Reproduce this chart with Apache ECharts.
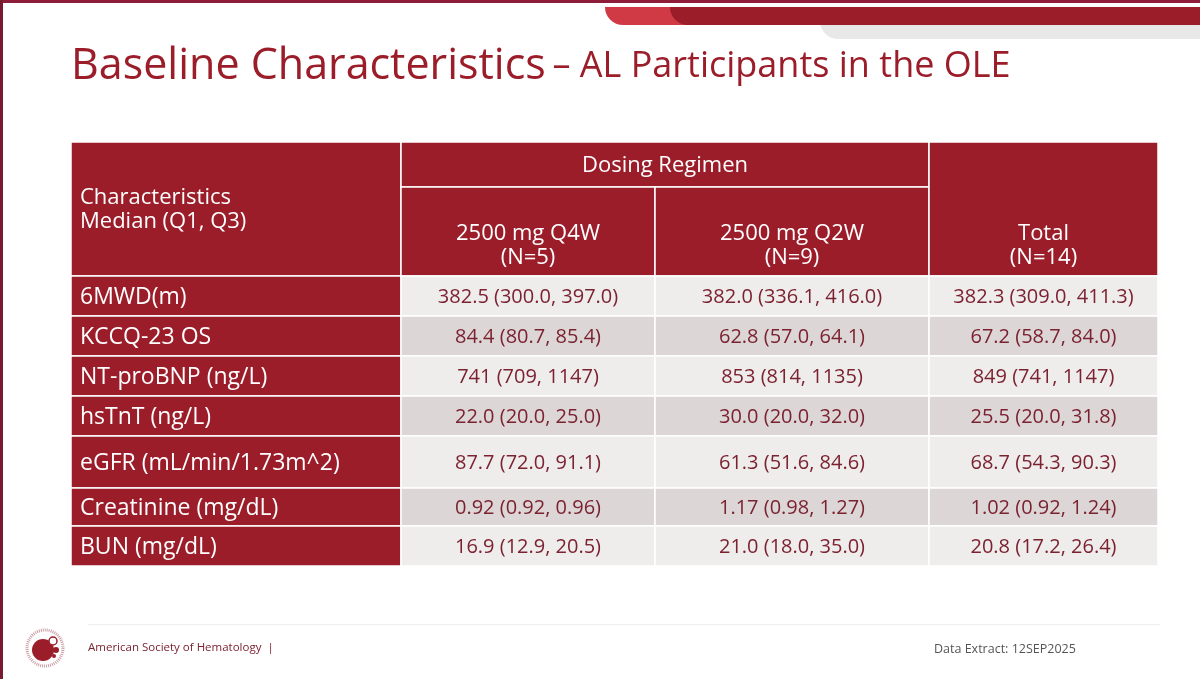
<!DOCTYPE html>
<html><head><meta charset="utf-8">
<script src="https://cdn.jsdelivr.net/npm/echarts@6/dist/echarts.min.js"></script>
<style>html,body{margin:0;padding:0;background:#fff}#c{width:1200px;height:679px}</style>
</head><body><div id="c"></div>
<script>
const rowLabels=['6MWD(m)','KCCQ-23 OS','NT-proBNP (ng/L)','hsTnT (ng/L)','eGFR (mL/min/1.73m^2)','Creatinine (mg/dL)','BUN (mg/dL)'];
const q4w=['382.5 (300.0, 397.0)','84.4 (80.7, 85.4)','741 (709, 1147)','22.0 (20.0, 25.0)','87.7 (72.0, 91.1)','0.92 (0.92, 0.96)','16.9 (12.9, 20.5)'];
const q2w=['382.0 (336.1, 416.0)','62.8 (57.0, 64.1)','853 (814, 1135)','30.0 (20.0, 32.0)','61.3 (51.6, 84.6)','1.17 (0.98, 1.27)','21.0 (18.0, 35.0)'];
const total=['382.3 (309.0, 411.3)','67.2 (58.7, 84.0)','849 (741, 1147)','25.5 (20.0, 31.8)','68.7 (54.3, 90.3)','1.02 (0.92, 1.24)','20.8 (17.2, 26.4)'];
const headerTexts=['Characteristics\nMedian (Q1, Q3)','Dosing Regimen','2500 mg Q4W\n(N=5)','2500 mg Q2W\n(N=9)','Total\n(N=14)'];

const colEdges=[0,330,584,858,1087];
const rowEdges=[0,45,134,174,214,254,294,346,384,424];
const RED='#9b1d29', TXT='#7b2230';

const cells=[];
cells.push([0,1,0,2,headerTexts[0],'hl',0]);
cells.push([1,3,0,1,headerTexts[1],'h',0]);
cells.push([1,2,1,2,headerTexts[2],'hb',0]);
cells.push([2,3,1,2,headerTexts[3],'hb',0]);
cells.push([3,4,0,2,headerTexts[4],'hb',0]);
rowLabels.forEach((l,i)=>{
  const r=i+2;
  cells.push([0,1,r,r+1,l,'rl',i]);
  cells.push([1,2,r,r+1,q4w[i],'d',i]);
  cells.push([2,3,r,r+1,q2w[i],'d',i]);
  cells.push([3,4,r,r+1,total[i],'d',i]);
});

const chart=echarts.init(document.getElementById('c'));
chart.setOption({
  animation:false,
  grid:{left:71,top:142,width:1087,height:424},
  xAxis:{type:'value',min:0,max:1087,show:false},
  yAxis:{type:'value',min:0,max:424,inverse:true,show:false},
  series:[{
    type:'custom',
    data:cells.map((c,i)=>[i]),
    renderItem:function(params,api){
      const c=cells[api.value(0)];
      const p0=api.coord([colEdges[c[0]],rowEdges[c[2]]]);
      const p1=api.coord([colEdges[c[1]],rowEdges[c[3]]]);
      const kind=c[5];
      const isHead=kind[0]==='h'||kind==='rl';
      const fill=isHead?RED:(c[6]%2===0?'#efecec':'#ddd6d6');
      let tx,ty,align='center',vAlign='middle';
      if(kind==='hl'||kind==='rl'){tx=p0[0]+9;align='left';}else{tx=(p0[0]+p1[0])/2;}
      ty=(p0[1]+p1[1])/2+1;
      if(kind==='hb'){ty=p1[1]-6;vAlign='bottom';}
      if(kind==='hl'){ty=p0[1]+68;}
      const size=kind==='d'?20:(kind==='rl'?23:22);
      return {type:'group',children:[
        {type:'rect',shape:{x:p0[0],y:p0[1],width:p1[0]-p0[0],height:p1[1]-p0[1]},
         style:{fill:fill,stroke:'#ffffff',lineWidth:1.5}},
        {type:'text',x:tx,y:ty,style:{text:c[4],fill:isHead?'#ffffff':TXT,
          font:size+'px "Open Sans", sans-serif',align:align,verticalAlign:vAlign,lineHeight:24}}
      ]};
    }
  }],
  graphic:[
    {type:'rect',shape:{x:0,y:0,width:1200,height:3},style:{fill:'#8e1d3a'}},
    {type:'rect',shape:{x:0,y:0,width:3,height:679},style:{fill:'#7a1a30'}},
    {type:'rect',shape:{x:820,y:8,width:420,height:31,r:[0,0,0,18]},style:{fill:'#e8e8e8'}},
    {type:'rect',shape:{x:605,y:7,width:300,height:18,r:[0,0,0,18]},style:{fill:'#cf3a44'}},
    {type:'rect',shape:{x:670,y:7,width:560,height:18,r:[0,0,0,18]},style:{fill:'#9b1d29'}},
    {type:'text',left:71,top:45,style:{text:'{a|Baseline Characteristics}  {b|– AL Participants in the OLE}',
      rich:{a:{font:'43px "Open Sans", sans-serif',fill:'#9b1d29'},b:{font:'36px "Open Sans", sans-serif',fill:'#9b1d29'}}}},
    {type:'rect',shape:{x:88,y:624,width:1072,height:1},style:{fill:'#eeeeee'}},
    {type:'circle',shape:{cx:45,cy:648,r:18},style:{fill:'none',stroke:'#c9a0a5',lineWidth:3,lineDash:[1,1]}},
    {type:'circle',shape:{cx:43,cy:650,r:11},style:{fill:'#9b1d29'}},
    {type:'circle',shape:{cx:53,cy:641,r:4},style:{fill:'#fff',stroke:'#9b1d29',lineWidth:1.5}},
    {type:'circle',shape:{cx:56,cy:650,r:3},style:{fill:'#9b1d29'}},
    {type:'circle',shape:{cx:54,cy:656,r:2},style:{fill:'#9b1d29'}},
    {type:'text',left:88,top:642,style:{text:'American Society of Hematology  |',font:'11.5px "Open Sans", sans-serif',fill:'#7b2230'}},
    {type:'text',left:934,top:643,style:{text:'Data Extract: 12SEP2025',font:'12.5px "Open Sans", sans-serif',fill:'#555555'}}
  ]
});
</script></body></html>
